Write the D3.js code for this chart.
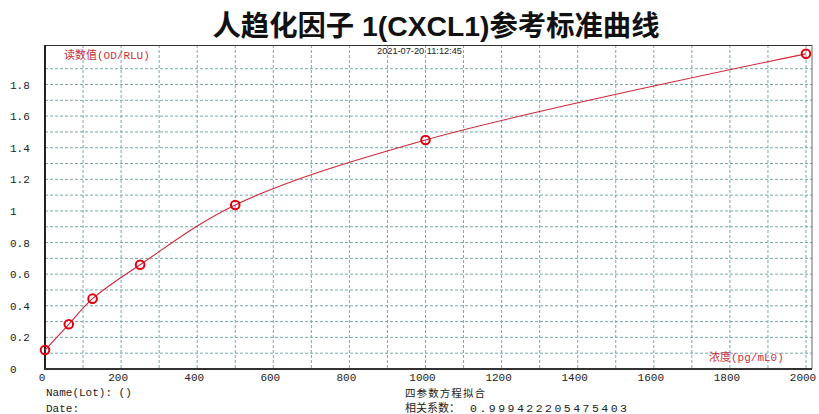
<!DOCTYPE html>
<html><head><meta charset="utf-8">
<script src="https://cdn.jsdelivr.net/npm/d3@7"></script>
<style>body{margin:0;background:#fff;}svg{display:block;}</style>
</head><body>
<script>
const conc = [0, 62.5, 125, 250, 500, 1000, 2000];
const od   = [0.12, 0.283, 0.445, 0.66, 1.038, 1.449, 1.994];
const xTicks = [0, 200, 400, 600, 800, 1000, 1200, 1400, 1600, 1800, 2000];
const yTicks = [0, 0.2, 0.4, 0.6, 0.8, 1, 1.2, 1.4, 1.6, 1.8];
const xGrid = d3.range(100, 2001, 100);
const yGrid = d3.range(1, 20).map(i => i / 10);
const title = "人趋化因子 1(CXCL1)参考标准曲线";

(function () {
const W = 819, H = 414;
const svg = d3.select("body").append("svg").attr("width", W).attr("height", H);
const x = d3.scaleLinear().domain([0, 2000]).range([45, 806]);
const y = d3.scaleLinear().domain([0, 1.8]).range([369, 84.5]);
const plotTop = 45, plotRight = 812;

// grid
svg.append("g").selectAll("line").data(xGrid).join("line")
  .attr("x1", d => x(d)).attr("x2", d => x(d)).attr("y1", plotTop).attr("y2", y(0))
  .attr("stroke", "#79aaa8").attr("stroke-width", 1).attr("stroke-dasharray", "3,2");
svg.append("g").selectAll("line").data(yGrid).join("line")
  .attr("x1", x(0)).attr("x2", plotRight).attr("y1", d => y(d)).attr("y2", d => y(d))
  .attr("stroke", "#79aaa8").attr("stroke-width", 1).attr("stroke-dasharray", "3,2");

// frame
svg.append("line").attr("x1", x(0)).attr("x2", plotRight).attr("y1", plotTop + 0.5).attr("y2", plotTop + 0.5).attr("stroke", "#333").attr("stroke-width", 1);
svg.append("line").attr("x1", plotRight).attr("x2", plotRight).attr("y1", plotTop).attr("y2", y(0)).attr("stroke", "#666").attr("stroke-width", 1);
svg.append("line").attr("x1", x(0)).attr("x2", x(0)).attr("y1", plotTop).attr("y2", y(0) + 1).attr("stroke", "#222").attr("stroke-width", 2);
svg.append("line").attr("x1", x(0)).attr("x2", plotRight).attr("y1", y(0)).attr("y2", y(0)).attr("stroke", "#333").attr("stroke-width", 2);

// ticks
const mono = "'Liberation Mono','DejaVu Sans Mono',monospace";
svg.append("g").selectAll("text").data(yTicks).join("text")
  .attr("x", 10).attr("y", d => y(d) + 4).text(d => d)
  .attr("font-family", mono).attr("font-size", 11).attr("fill", "#222");
svg.append("g").selectAll("text").data(xTicks).join("text")
  .attr("x", d => x(d) - 3).attr("y", 381).attr("text-anchor", "middle").text(d => d)
  .attr("font-family", mono).attr("font-size", 11).attr("fill", "#222");

// curve
const pts = conc.map((c, i) => [x(c), y(od[i])]);
svg.append("path").attr("d", d3.line().curve(d3.curveCatmullRom.alpha(0.5))(pts))
  .attr("fill", "none").attr("stroke", "#d0283a").attr("stroke-width", 1.1);
svg.append("g").selectAll("circle").data(pts).join("circle")
  .attr("cx", d => d[0]).attr("cy", d => d[1]).attr("r", 4.3)
  .attr("fill", "none").attr("stroke", "#e00010").attr("stroke-width", 2);

// labels
const cjk = "'Liberation Mono','Noto Sans CJK SC',monospace";
svg.append("text").attr("x", 64).attr("y", 59).text("读数值(OD/RLU)")
  .attr("font-family", cjk).attr("font-size", 11).attr("fill", "#c8303c");
svg.append("text").attr("x", 709).attr("y", 361).text("浓度(pg/mL0)")
  .attr("font-family", cjk).attr("font-size", 11).attr("fill", "#c8303c");
svg.append("text").attr("x", 377).attr("y", 54).text("2021-07-20 11:12:45")
  .attr("font-family", "'Liberation Sans',sans-serif").attr("font-size", 8.5).attr("fill", "#222")
  .attr("textLength", 85).attr("lengthAdjust", "spacingAndGlyphs");

svg.append("text").attr("x", 436).attr("y", 36).attr("text-anchor", "middle").text(title)
  .attr("font-family", "'Liberation Sans','Noto Sans CJK SC',sans-serif").attr("font-weight", "bold")
  .attr("font-size", 28.5).attr("fill", "#111")
  .attr("textLength", 447).attr("lengthAdjust", "spacingAndGlyphs");

svg.append("text").attr("x", 46).attr("y", 396).text("Name(Lot): ()")
  .attr("font-family", mono).attr("font-size", 11).attr("fill", "#222");
svg.append("text").attr("x", 46).attr("y", 412).text("Date:")
  .attr("font-family", mono).attr("font-size", 11).attr("fill", "#222");
svg.append("text").attr("x", 405).attr("y", 397).text("四参数方程拟合")
  .attr("font-family", "'Noto Sans CJK SC',sans-serif").attr("font-size", 10.5).attr("fill", "#222")
  .attr("textLength", 80).attr("lengthAdjust", "spacing");
svg.append("text").attr("x", 405).attr("y", 412).text("相关系数：")
  .attr("font-family", "'Noto Sans CJK SC',sans-serif").attr("font-size", 11).attr("fill", "#222");
svg.append("text").attr("x", 470).attr("y", 412).text("0.999422205475403")
  .attr("font-family", mono).attr("font-size", 11.5).attr("fill", "#222")
  .attr("textLength", 157).attr("lengthAdjust", "spacing");
})();
</script>
</body></html>
